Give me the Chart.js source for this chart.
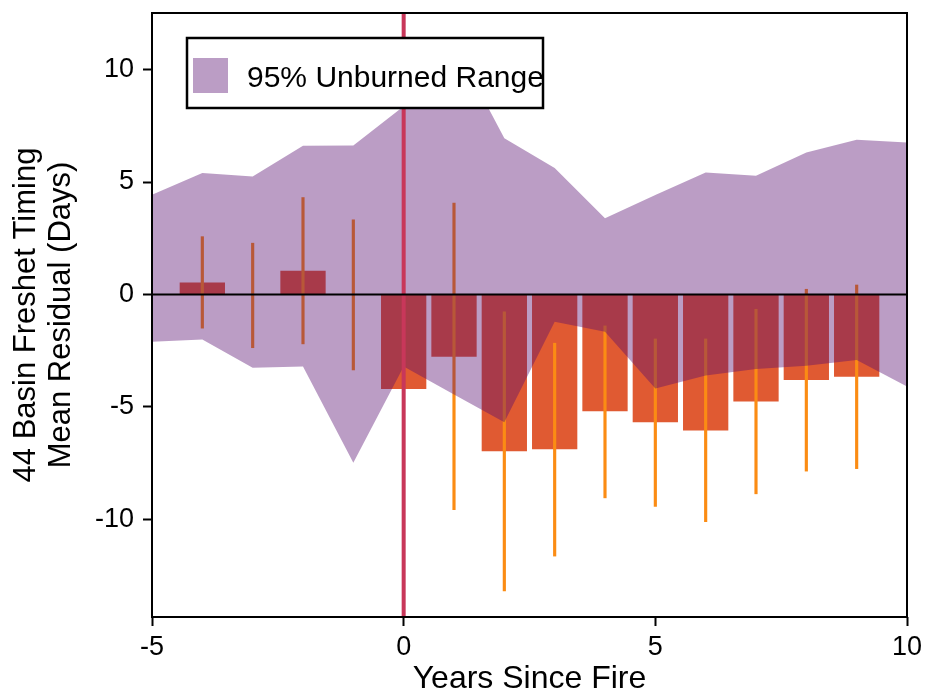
<!DOCTYPE html>
<html>
<head>
<meta charset="utf-8">
<script src="https://cdn.jsdelivr.net/npm/chart.js@4.4.1/dist/chart.umd.min.js"></script>
<style>
  html, body { margin: 0; padding: 0; background: #fff; }
  #wrap { width: 927px; height: 698px; }
</style>
</head>
<body>
<div id="wrap"><canvas id="freshetChart" width="927" height="698"></canvas></div>
<script>
// Mean freshet timing residual per year since fire, with error bar limits
const years = [-4, -3, -2, -1, 0, 1, 2, 3, 4, 5, 6, 7, 8, 9];
const meanResidual = [0.53, null, 1.05, null, -4.21, -2.77, -6.98, -6.89, -5.2, -5.69, -6.05, -4.76, -3.81, -3.66];
const errLow = [-1.5, -2.37, -2.2, -3.36, null, -9.57, -13.19, -11.64, -9.05, -9.43, -10.11, -8.87, -7.86, -7.75];
const errHigh = [2.57, 2.28, 4.31, 3.32, null, 4.06, -0.77, -2.17, -1.4, -1.98, -1.98, -0.66, 0.23, 0.42];

// 95% range of the unburned basins
const rangeYears = [-5, -4, -3, -2, -1, 0, 1, 2, 3, 4, 5, 6, 7, 8, 9, 10];
const rangeUpper = [4.43, 5.4, 5.25, 6.61, 6.63, 8.37, 11.18, 6.95, 5.62, 3.39, 4.42, 5.42, 5.28, 6.31, 6.88, 6.76];
const rangeLower = [-2.1, -2.0, -3.26, -3.21, -7.49, -3.21, -4.45, -5.69, -1.21, -1.66, -4.18, -3.61, -3.32, -3.17, -2.92, -4.1];

const xTicks = [-5, 0, 5, 10];
const yTicks = [-10, -5, 0, 5, 10];
const fireYear = 0;

const FONT = '"Liberation Sans", Arial, Helvetica, sans-serif';
Chart.defaults.font.family = FONT;
Chart.defaults.color = '#000';

const purpleFill = 'rgba(85, 10, 110, 0.4)';

// fire-year marker, zero line and the box round the plot
const refLines = {
  id: 'refLines',
  afterDatasetsDraw(chart) {
    const { ctx, chartArea: a, scales: { x, y } } = chart;
    ctx.save();
    const fx = x.getPixelForValue(fireYear);
    ctx.strokeStyle = '#c8375a';
    ctx.lineWidth = 4;
    ctx.beginPath();
    ctx.moveTo(fx, a.top);
    ctx.lineTo(fx, a.bottom);
    ctx.stroke();

    const zy = y.getPixelForValue(0);
    ctx.strokeStyle = '#000';
    ctx.lineWidth = 2;
    ctx.beginPath();
    ctx.moveTo(a.left, zy);
    ctx.lineTo(a.right, zy);
    ctx.stroke();

    ctx.strokeRect(a.left, a.top, a.right - a.left, a.bottom - a.top);
    ctx.restore();
  }
};

// boxed legend inside the plot, top left
const rangeLegend = {
  id: 'rangeLegend',
  afterDraw(chart) {
    const { ctx, chartArea: a } = chart;
    const bx = a.left + 35, by = a.top + 25, bw = 356, bh = 70;
    ctx.save();
    ctx.fillStyle = '#fff';
    ctx.fillRect(bx, by, bw, bh);
    ctx.strokeStyle = '#000';
    ctx.lineWidth = 2.5;
    ctx.strokeRect(bx, by, bw, bh);
    ctx.fillStyle = '#bb9dc5';
    ctx.fillRect(bx + 6, by + 20, 35, 35);
    ctx.fillStyle = '#000';
    ctx.font = '30px ' + FONT;
    ctx.textBaseline = 'alphabetic';
    ctx.fillText('95% Unburned Range', bx + 60, by + 49);
    ctx.restore();
  }
};

const ctx = document.getElementById('freshetChart').getContext('2d');
const freshetChart = new Chart(ctx, {
  type: 'bar',
  data: {
    datasets: [
      {
        type: 'line',
        label: '95% Unburned Range',
        data: rangeYears.map((yr, i) => ({ x: yr, y: rangeUpper[i] })),
        borderWidth: 0,
        borderColor: 'rgba(0,0,0,0)',
        pointRadius: 0,
        tension: 0,
        backgroundColor: purpleFill,
        fill: '+1',
        order: 2
      },
      {
        type: 'line',
        label: 'lower',
        data: rangeYears.map((yr, i) => ({ x: yr, y: rangeLower[i] })),
        borderWidth: 0,
        borderColor: 'rgba(0,0,0,0)',
        pointRadius: 0,
        tension: 0,
        fill: false,
        order: 3
      },
      {
        label: 'error',
        data: years.map((yr, i) => ({ x: yr, y: [errLow[i], errHigh[i]] }))
                   .filter((d, i) => errLow[i] !== null),
        backgroundColor: '#fb8c14',
        barThickness: 2.5,
        grouped: false,
        order: 4
      },
      {
        label: 'mean',
        data: years.map((yr, i) => ({ x: yr, y: meanResidual[i] })),
        backgroundColor: '#e05a32',
        borderWidth: 0,
        categoryPercentage: 1,
        barPercentage: 0.9,
        grouped: false,
        order: 5
      }
    ]
  },
  options: {
    responsive: false,
    animation: false,
    events: [],
    layout: { padding: { top: 13, right: 20, left: 0, bottom: 0 } },
    plugins: {
      legend: { display: false },
      tooltip: { enabled: false }
    },
    scales: {
      x: {
        type: 'linear',
        min: -5,
        max: 10,
        offset: false,
        afterBuildTicks: s => { s.ticks = xTicks.map(v => ({ value: v })); },
        afterFit: s => { s.height = 81; s.paddingLeft = 0; s.paddingRight = 0; },
        grid: { offset: false, drawOnChartArea: false, drawTicks: true, tickLength: 9, tickColor: '#000', tickWidth: 2 },
        border: { display: false },
        ticks: { color: '#000', font: { size: 27 }, padding: 5, maxRotation: 0, autoSkip: false },
        title: { display: true, text: 'Years Since Fire', color: '#000', font: { size: 32 }, padding: { top: 0, bottom: 0 } }
      },
      y: {
        type: 'linear',
        min: -14.35,
        max: 12.52,
        afterBuildTicks: s => { s.ticks = yTicks.map(v => ({ value: v })); },
        afterFit: s => { s.width = 152; s.paddingTop = 0; s.paddingBottom = 0; },
        grid: { drawOnChartArea: false, drawTicks: true, tickLength: 9, tickColor: '#000', tickWidth: 2 },
        border: { display: false },
        ticks: { color: '#000', font: { size: 27 }, padding: 9, autoSkip: false },
        title: {
          display: true,
          text: ['44 Basin Freshet Timing', 'Mean Residual (Days)'],
          color: '#000',
          font: { size: 31, lineHeight: 1.16 },
          padding: { top: 8, bottom: 0 }
        }
      }
    }
  },
  plugins: [refLines, rangeLegend]
});
</script>
</body>
</html>
